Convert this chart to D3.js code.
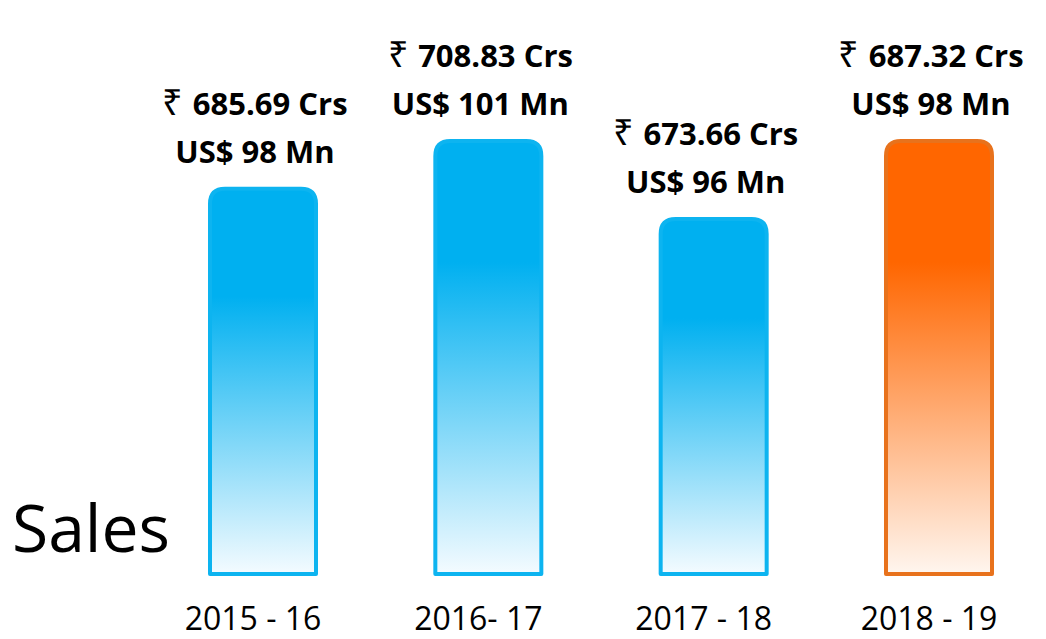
<!DOCTYPE html>
<html>
<head>
<meta charset="utf-8">
<script src="https://cdn.jsdelivr.net/npm/d3@7"></script>
<style>
  html, body { margin: 0; padding: 0; background: #fff; }
  svg { display: block; }
</style>
</head>
<body>
<div id="chart"></div>
<script>
// data
const years = ["2015 - 16", "2016- 17", "2017 - 18", "2018 - 19"];
const salesCrs = ["685.69", "708.83", "673.66", "687.32"];
const salesUsdMn = ["98", "101", "96", "98"];
// bar heights as drawn (percent of tallest bar)
const barLevel = [89, 100, 82, 100];
const highlight = ["2018 - 19"];

const W = 1046, H = 639;

const svg = d3.select("#chart").append("svg")
    .attr("width", W)
    .attr("height", H);

const x = d3.scalePoint().domain(years).range([263, 939]);
const y = d3.scaleLinear().domain([0, 100]).range([574, 141]);
const barW = 106, r = 15;

// gradients
const defs = svg.append("defs");
function addGrad(id, c, end) {
    const g = defs.append("linearGradient")
        .attr("id", id)
        .attr("x1", 0).attr("y1", 0).attr("x2", 0).attr("y2", 1);
    g.append("stop").attr("offset", "0%").attr("stop-color", c);
    g.append("stop").attr("offset", "28%").attr("stop-color", c);
    g.append("stop").attr("offset", "100%").attr("stop-color", end);
}
addGrad("gBlue", "#00b0f0", "#f4fbff");
addGrad("gOrange", "#ff6600", "#fff6ef");

// rounded top bar path
function barPath(cx, top, bottom) {
    const x0 = cx - barW / 2, x1 = cx + barW / 2;
    return `M${x0},${bottom} L${x0},${top + r} Q${x0},${top} ${x0 + r},${top}
            L${x1 - r},${top} Q${x1},${top} ${x1},${top + r} L${x1},${bottom} Z`;
}

const isHi = d => highlight.includes(d);

svg.selectAll(".bar")
    .data(years)
    .enter().append("path")
    .attr("class", "bar")
    .attr("d", (d, i) => barPath(x(d), y(barLevel[i]), y(0)))
    .attr("fill", d => isHi(d) ? "url(#gOrange)" : "url(#gBlue)")
    .attr("stroke", d => isHi(d) ? "#e8721c" : "#0db4f0")
    .attr("stroke-width", 4)
    .attr("stroke-linejoin", "round");

// value labels
const lbl = svg.selectAll(".lbl")
    .data(years)
    .enter().append("g")
    .attr("class", "lbl")
    .attr("transform", (d, i) => `translate(${x(d) - 8},${y(barLevel[i]) - 26})`)
    .style("font-family", "'Open Sans', sans-serif")
    .style("font-weight", "bold")
    .style("font-size", "31px")
    .style("fill", "#000")
    .attr("text-anchor", "middle");

lbl.append("text")
    .attr("y", -48)
    .call(t => {
        t.append("tspan").style("font-weight", "normal").style("font-size", "36px").text("₹ ");
        t.append("tspan").text((d, i) => salesCrs[i] + " Crs");
    });

lbl.append("text")
    .attr("y", 0)
    .text((d, i) => "US$ " + salesUsdMn[i] + " Mn");

// x labels
svg.selectAll(".xl")
    .data(years)
    .enter().append("text")
    .attr("class", "xl")
    .attr("x", d => x(d) - 10)
    .attr("y", 630)
    .attr("text-anchor", "middle")
    .style("font-family", "'Open Sans', sans-serif")
    .style("font-size", "32px")
    .style("fill", "#000")
    .text(d => d);

svg.append("text")
    .attr("x", 12)
    .attr("y", 552)
    .style("font-family", "'Open Sans', sans-serif")
    .style("font-size", "66px")
    .style("fill", "#000")
    .text("Sales");
</script>
</body>
</html>
